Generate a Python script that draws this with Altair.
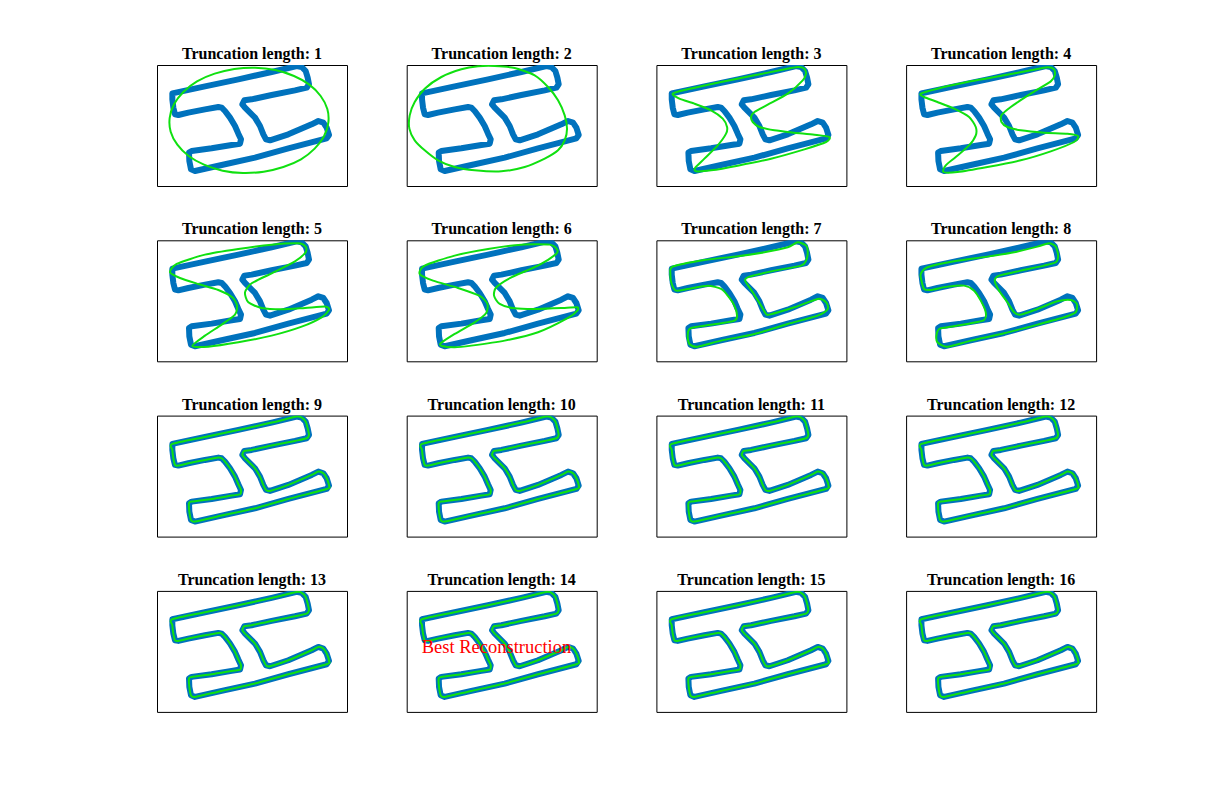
import altair as alt
import pandas as pd

# Plot units: x from 6 to 576, y from 9 (top) to 372 (bottom), image-style y axis
x_domain = [6, 576]
y_domain = [9, 372]

# Traced outline (blue)
shape_x = [52, 150, 250, 350, 425, 440, 452, 458, 462, 455, 420, 350, 290, 268, 262, 270, 300, 315,
           325, 333, 345, 400, 470, 490, 505, 515, 522, 515, 400, 300, 200, 120, 108, 103, 102, 110,
           170, 230, 255, 258, 250, 240, 225, 210, 200, 190, 150, 100, 70, 60, 55, 52]
shape_y = [94, 73, 52, 30, 12, 15, 27, 47, 67, 77, 85, 99, 112, 115, 127, 137, 167, 192,
           217, 232, 235, 217, 187, 177, 182, 197, 219, 229, 259, 287, 309, 327, 322, 297, 272, 267,
           259, 249, 245, 232, 215, 192, 167, 147, 137, 135, 142, 152, 159, 157, 137, 112]

# Reconstructions (green) with truncation lengths 1-8
r1_x = [520, 507, 479, 438, 385, 326, 264, 203, 147, 101, 67, 47, 44, 57, 85, 126, 179, 238, 300, 361, 417, 463, 497, 517]
r1_y = [182, 223, 260, 292, 315, 329, 333, 326, 308, 282, 248, 209, 168, 127, 90, 58, 35, 21, 17, 24, 42, 68, 102, 141]
r2_x = [270, 330, 390, 430, 460, 480, 487, 480, 460, 420, 360, 290, 210, 150, 100, 60, 30, 14, 15, 30, 60, 110, 170, 220]
r2_y = [12, 18, 40, 75, 115, 160, 200, 235, 265, 290, 315, 328, 325, 315, 295, 265, 235, 200, 160, 120, 80, 45, 22, 13]
r3_x = [55, 100, 200, 300, 380, 430, 450, 455, 445, 400, 340, 300, 290, 295, 315, 360, 420, 480, 525, 515, 450, 350,
        250, 170, 125, 122, 150, 190, 215, 218, 205, 170, 120, 75]
r3_y = [95, 82, 60, 40, 24, 15, 20, 35, 55, 95, 128, 150, 165, 180, 195, 205, 212, 218, 225, 240, 262, 290,
        311, 325, 328, 318, 290, 250, 215, 195, 170, 145, 125, 110]
r4_x = [50, 100, 200, 300, 380, 430, 450, 452, 440, 380, 320, 292, 292, 310, 350, 420, 490, 522, 510, 440, 350, 250,
        160, 118, 125, 155, 195, 215, 215, 195, 150, 100, 60]
r4_y = [95, 80, 58, 40, 25, 16, 22, 40, 58, 95, 135, 160, 180, 195, 205, 212, 215, 222, 240, 268, 295, 315,
        330, 330, 310, 285, 250, 220, 195, 165, 140, 120, 105]
r5_x = [45, 65, 150, 250, 350, 430, 452, 452, 420, 350, 290, 270, 280, 320, 380, 450, 512, 522, 500, 440, 350, 250,
        160, 112, 150, 200, 240, 246, 232, 190, 130, 75]
r5_y = [105, 80, 52, 35, 22, 18, 28, 45, 72, 108, 138, 165, 195, 212, 216, 212, 208, 218, 240, 268, 295, 315,
        328, 326, 295, 262, 232, 205, 180, 158, 140, 122]
r6_x = [45, 60, 150, 250, 350, 435, 458, 452, 400, 320, 275, 268, 285, 330, 400, 480, 518, 518, 490, 400, 300, 200,
        150, 112, 108, 150, 210, 244, 248, 225, 160, 85]
r6_y = [110, 85, 55, 35, 22, 22, 38, 52, 85, 120, 150, 175, 200, 213, 215, 212, 210, 220, 242, 285, 310, 325,
        330, 326, 318, 290, 255, 228, 200, 176, 152, 130]
r7_x = [48, 55, 150, 250, 330, 400, 430, 455, 460, 455, 440, 360, 285, 272, 295, 320, 335, 345, 420, 490, 515, 520,
        490, 400, 300, 200, 130, 105, 100, 110, 200, 240, 248, 240, 220, 200, 160, 100, 65, 52]
r7_y = [110, 88, 68, 57, 45, 30, 15, 25, 45, 70, 85, 100, 118, 130, 165, 205, 230, 232, 210, 185, 195, 215,
        235, 260, 290, 310, 328, 320, 295, 272, 258, 250, 235, 205, 175, 155, 145, 155, 160, 140]
r8_x = [50, 70, 150, 250, 330, 400, 435, 455, 462, 455, 420, 350, 285, 272, 285, 310, 330, 350, 400, 460, 500, 518,
        515, 480, 400, 300, 200, 130, 100, 97, 105, 130, 200, 240, 245, 230, 210, 180, 130, 80, 60, 52]
r8_y = [110, 90, 72, 58, 45, 28, 18, 28, 55, 75, 85, 100, 115, 130, 160, 195, 225, 232, 215, 192, 188, 200,
        225, 240, 262, 288, 310, 328, 315, 295, 275, 270, 258, 248, 225, 190, 160, 145, 148, 158, 155, 130]

truncation_lengths = list(range(1, 17))
low_order = {1: (r1_x, r1_y), 2: (r2_x, r2_y), 3: (r3_x, r3_y), 4: (r4_x, r4_y),
             5: (r5_x, r5_y), 6: (r6_x, r6_y), 7: (r7_x, r7_y), 8: (r8_x, r8_y)}
best_length = 14
best_label = "Best Reconstruction"
label_x, label_y = 51, 177

rows = []
for n in truncation_lengths:
    for i, (xv, yv) in enumerate(zip(shape_x, shape_y)):
        rows.append({"n": n, "kind": "shape", "order": i, "x": xv, "y": yv, "label": ""})
    gx, gy = low_order.get(n, (shape_x, shape_y))
    for i, (xv, yv) in enumerate(zip(gx, gy)):
        rows.append({"n": n, "kind": "recon", "order": i, "x": xv, "y": yv, "label": ""})
rows.append({"n": best_length, "kind": "label", "order": 0, "x": label_x, "y": label_y, "label": best_label})
df = pd.DataFrame(rows)

X = alt.X("x:Q", scale=alt.Scale(domain=x_domain, nice=False, zero=False), axis=None)
Y = alt.Y("y:Q", scale=alt.Scale(domain=y_domain, nice=False, zero=False, reverse=True), axis=None)

base = alt.Chart()
blue = base.mark_line(color="#0072BD", strokeWidth=6, strokeJoin="round", interpolate="linear-closed",
                      clip=True).encode(x=X, y=Y, order="order:Q").transform_filter("datum.kind == 'shape'")
green = base.mark_line(color="#10e010", strokeWidth=2, interpolate="cardinal-closed", tension=0.3,
                       clip=True).encode(x=X, y=Y, order="order:Q").transform_filter("datum.kind == 'recon'")
text = base.mark_text(color="red", font="Liberation Serif", fontSize=18.5, align="left", baseline="middle").encode(
    x=X, y=Y, text="label:N").transform_filter("datum.kind == 'label'")

layer = alt.layer(blue, green, text, data=df).properties(width=190, height=121)

chart = layer.facet(
    facet=alt.Facet("n:O", title=None, header=alt.Header(
        labelFont="Liberation Serif", labelFontSize=16, labelFontWeight="bold", labelColor="black",
        labelExpr="'Truncation length: ' + datum.value", labelPadding=3)),
    columns=4,
    spacing={"row": 33.3, "column": 57.7},
).configure_view(stroke="black", strokeWidth=1).properties(
    background="white",
    padding={"left": 148, "top": 37, "right": 10, "bottom": 10},
)

chart.save("out.html", embed_options={"renderer": "svg", "actions": False})
